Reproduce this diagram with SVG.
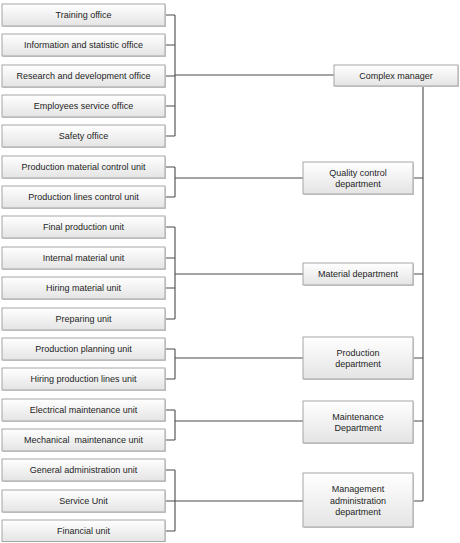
<svg xmlns="http://www.w3.org/2000/svg" width="460" height="543" viewBox="0 0 460 543">
  <defs>
    <linearGradient id="boxFill" x1="0" y1="0" x2="0" y2="1">
      <stop offset="0" stop-color="#ffffff"/>
      <stop offset="1" stop-color="#e4e4e4"/>
    </linearGradient>
    <style>
      .shadow { fill: #cfcfcf; }
      .box { fill: url(#boxFill); stroke: #a6a6a6; stroke-width: 1; }
      .lbl { font-family: "Liberation Sans", Arial, sans-serif; font-size: 9px; fill: #1e1e1e; text-anchor: middle; }
      .wire { fill: none; stroke: #4a4a4a; stroke-width: 1.1; }
    </style>
  </defs>
  <rect width="460" height="543" fill="#ffffff"/>

  <!-- connectors -->
  <g id="connectors" class="wire">
    <!-- head-office group -->
    <path d="M165 15H175M165 45H175M165 76H175M165 106H175M165 136H175M175 15V136M175 75H334"/>
    <!-- quality control group -->
    <path d="M165 167H175M165 197H175M175 167V197M175 178H303"/>
    <!-- material group -->
    <path d="M165 227H175M165 258H175M165 288H175M165 319H175M175 227V319M175 274H303"/>
    <!-- production group -->
    <path d="M165 349H175M165 379H175M175 349V379M175 358H303"/>
    <!-- maintenance group -->
    <path d="M165 410H175M165 440H175M175 410V440M175 421H303"/>
    <!-- management group -->
    <path d="M165 470H175M165 501H175M165 531H175M175 470V531M175 501H303"/>
    <!-- trunk from the complex manager -->
    <path d="M423 86V501M413 178H423M413 274H423M413 358H423M413 421H423M413 501H423"/>
  </g>

  <!-- unit boxes -->
  <g id="training-office"><rect class="shadow" x="3" y="5" width="163" height="22"/><rect class="box" x="2" y="4" width="163" height="22"/><text class="lbl" x="83.5" y="18.2">Training office</text></g>
  <g id="information-office"><rect class="shadow" x="3" y="35" width="163" height="22"/><rect class="box" x="2" y="34" width="163" height="22"/><text class="lbl" x="83.5" y="48.2">Information and statistic office</text></g>
  <g id="research-office"><rect class="shadow" x="3" y="66" width="163" height="22"/><rect class="box" x="2" y="65" width="163" height="22"/><text class="lbl" x="83.5" y="79.2">Research and development office</text></g>
  <g id="employees-office"><rect class="shadow" x="3" y="96" width="163" height="22"/><rect class="box" x="2" y="95" width="163" height="22"/><text class="lbl" x="83.5" y="109.2">Employees service office</text></g>
  <g id="safety-office"><rect class="shadow" x="3" y="126" width="163" height="22"/><rect class="box" x="2" y="125" width="163" height="22"/><text class="lbl" x="83.5" y="139.2">Safety office</text></g>
  <g id="material-control-unit"><rect class="shadow" x="3" y="157" width="163" height="22"/><rect class="box" x="2" y="156" width="163" height="22"/><text class="lbl" x="83.5" y="170.2">Production material control unit</text></g>
  <g id="lines-control-unit"><rect class="shadow" x="3" y="187" width="163" height="22"/><rect class="box" x="2" y="186" width="163" height="22"/><text class="lbl" x="83.5" y="200.2">Production lines control unit</text></g>
  <g id="final-production-unit"><rect class="shadow" x="3" y="217" width="163" height="22"/><rect class="box" x="2" y="216" width="163" height="22"/><text class="lbl" x="83.5" y="230.2">Final production unit</text></g>
  <g id="internal-material-unit"><rect class="shadow" x="3" y="248" width="163" height="22"/><rect class="box" x="2" y="247" width="163" height="22"/><text class="lbl" x="83.5" y="261.2">Internal material unit</text></g>
  <g id="hiring-material-unit"><rect class="shadow" x="3" y="278" width="163" height="22"/><rect class="box" x="2" y="277" width="163" height="22"/><text class="lbl" x="83.5" y="291.2">Hiring material unit</text></g>
  <g id="preparing-unit"><rect class="shadow" x="3" y="309" width="163" height="22"/><rect class="box" x="2" y="308" width="163" height="22"/><text class="lbl" x="83.5" y="322.2">Preparing unit</text></g>
  <g id="planning-unit"><rect class="shadow" x="3" y="339" width="163" height="22"/><rect class="box" x="2" y="338" width="163" height="22"/><text class="lbl" x="83.5" y="352.2">Production planning unit</text></g>
  <g id="hiring-lines-unit"><rect class="shadow" x="3" y="369" width="163" height="22"/><rect class="box" x="2" y="368" width="163" height="22"/><text class="lbl" x="83.5" y="382.2">Hiring production lines unit</text></g>
  <g id="electrical-unit"><rect class="shadow" x="3" y="400" width="163" height="22"/><rect class="box" x="2" y="399" width="163" height="22"/><text class="lbl" x="83.5" y="413.2">Electrical maintenance unit</text></g>
  <g id="mechanical-unit"><rect class="shadow" x="3" y="430" width="163" height="22"/><rect class="box" x="2" y="429" width="163" height="22"/><text class="lbl" x="83.5" y="443.2" xml:space="preserve">Mechanical  maintenance unit</text></g>
  <g id="general-admin-unit"><rect class="shadow" x="3" y="460" width="163" height="22"/><rect class="box" x="2" y="459" width="163" height="22"/><text class="lbl" x="83.5" y="473.2">General administration unit</text></g>
  <g id="service-unit"><rect class="shadow" x="3" y="491" width="163" height="22"/><rect class="box" x="2" y="490" width="163" height="22"/><text class="lbl" x="83.5" y="504.2">Service Unit</text></g>
  <g id="financial-unit"><rect class="shadow" x="3" y="521" width="163" height="21"/><rect class="box" x="2" y="520" width="163" height="21.5"/><text class="lbl" x="83.5" y="534.2">Financial unit</text></g>

  <!-- department boxes -->
  <g id="complex-manager"><rect class="shadow" x="335" y="66" width="124" height="21"/><rect class="box" x="334" y="65" width="124" height="21"/><text class="lbl" x="396" y="78.7">Complex manager</text></g>
  <g id="quality-control-department"><rect class="shadow" x="304" y="163" width="110" height="32"/><rect class="box" x="303" y="162" width="110" height="32"/><text class="lbl" x="358" y="175.5">Quality control</text><text class="lbl" x="358" y="187">department</text></g>
  <g id="material-department"><rect class="shadow" x="304" y="264" width="110" height="22"/><rect class="box" x="303" y="263" width="110" height="22"/><text class="lbl" x="358" y="277.2">Material department</text></g>
  <g id="production-department"><rect class="shadow" x="304" y="338" width="110" height="42"/><rect class="box" x="303" y="337" width="110" height="42"/><text class="lbl" x="358" y="355.5">Production</text><text class="lbl" x="358" y="367">department</text></g>
  <g id="maintenance-department"><rect class="shadow" x="304" y="402" width="110" height="42"/><rect class="box" x="303" y="401" width="110" height="42"/><text class="lbl" x="358" y="419.5">Maintenance</text><text class="lbl" x="358" y="431">Department</text></g>
  <g id="management-department"><rect class="shadow" x="304" y="474" width="110" height="54"/><rect class="box" x="303" y="473" width="110" height="54"/><text class="lbl" x="358" y="492">Management</text><text class="lbl" x="358" y="503.5">administration</text><text class="lbl" x="358" y="515">department</text></g>
</svg>
